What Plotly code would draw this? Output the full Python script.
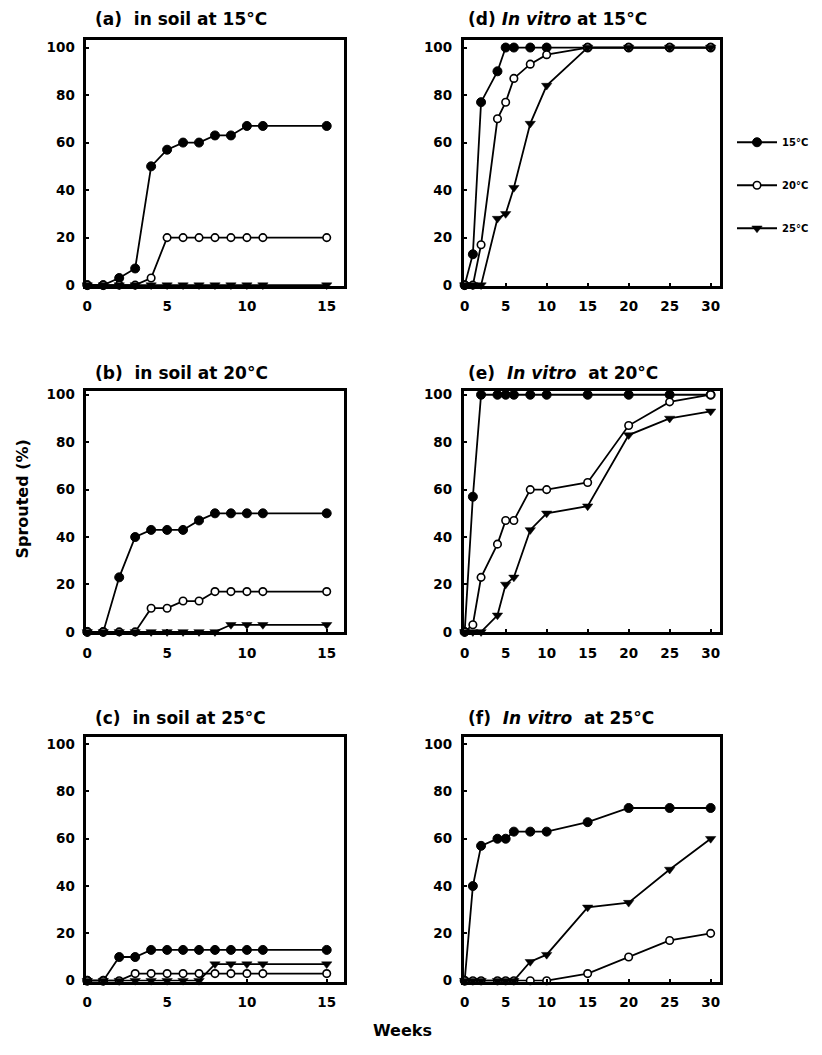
import plotly.graph_objects as go

# ---------------- data ----------------
weeks_soil = [0, 1, 2, 3, 4, 5, 6, 7, 8, 9, 10, 11, 15]
weeks_vitro = [0, 1, 2, 4, 5, 6, 8, 10, 15, 20, 25, 30]

# (a) in soil at 15°C
a_15 = [0, 0, 3, 7, 50, 57, 60, 60, 63, 63, 67, 67, 67]
a_20 = [0, 0, 0, 0, 3, 20, 20, 20, 20, 20, 20, 20, 20]
a_25 = [0, 0, 0, 0, 0, 0, 0, 0, 0, 0, 0, 0, 0]
# (b) in soil at 20°C
b_15 = [0, 0, 23, 40, 43, 43, 43, 47, 50, 50, 50, 50, 50]
b_20 = [0, 0, 0, 0, 10, 10, 13, 13, 17, 17, 17, 17, 17]
b_25 = [0, 0, 0, 0, 0, 0, 0, 0, 0, 3, 3, 3, 3]
# (c) in soil at 25°C
c_15 = [0, 0, 10, 10, 13, 13, 13, 13, 13, 13, 13, 13, 13]
c_20 = [0, 0, 0, 3, 3, 3, 3, 3, 3, 3, 3, 3, 3]
c_25 = [0, 0, 0, 0, 0, 0, 0, 0, 7, 7, 7, 7, 7]
# (d) in vitro at 15°C
d_15 = [0, 13, 77, 90, 100, 100, 100, 100, 100, 100, 100, 100]
d_20 = [0, 0, 17, 70, 77, 87, 93, 97, 100, 100, 100, 100]
d_25 = [0, 0, 0, 28, 30, 41, 68, 84, 100, 100, 100, 100]
# (e) in vitro at 20°C
e_15 = [0, 57, 100, 100, 100, 100, 100, 100, 100, 100, 100, 100]
e_20 = [0, 3, 23, 37, 47, 47, 60, 60, 63, 87, 97, 100]
e_25 = [0, 0, 0, 7, 20, 23, 43, 50, 53, 83, 90, 93]
# (f) in vitro at 25°C
f_15 = [0, 40, 57, 60, 60, 63, 63, 63, 67, 73, 73, 73]
f_20 = [0, 0, 0, 0, 0, 0, 0, 0, 3, 10, 17, 20]
f_25 = [0, 0, 0, 0, 0, 0, 8, 11, 31, 33, 47, 60]

series_names = ["15°C", "20°C", "25°C"]
soil_ticks = [0, 5, 10, 15]
vitro_ticks = [0, 5, 10, 15, 20, 25, 30]
y_ticks = [0, 20, 40, 60, 80, 100]

panel_titles = [
    "(a)  in soil at 15°C",
    "(b)  in soil at 20°C",
    "(c)  in soil at 25°C",
    "(d) <i>In vitro</i> at 15°C",
    "(e)  <i>In vitro</i>  at 20°C",
    "(f)  <i>In vitro</i>  at 25°C",
]

# ---------------- layout geometry (page pixels) ----------------
PAGE_W, PAGE_H = 822, 1055
BODY = 8                      # default body margin of the html page
FW, FH = PAGE_W - 2 * BODY, PAGE_H - 2 * BODY


def px(p):
    return (p - BODY) / FW


def py(p):
    return 1 - (p - BODY) / FH


col_x = {"L": (84, 347), "R": (469, 730)}
row_y = [(36, 285), (391, 635), (741, 988)]
row_yrange = [(-0.4, 103.3), (-0.2, 101.6), (-0.4, 102.9)]
soil_xrange = (-0.05, 16.1)
vitro_xrange = (-0.1, 31.1)
title_x = {"L": 91, "R": 471}
title_y = [15, 373, 722]

panels = [
    ("L", 0, weeks_soil, (a_15, a_20, a_25), soil_ticks, soil_xrange),
    ("L", 1, weeks_soil, (b_15, b_20, b_25), soil_ticks, soil_xrange),
    ("L", 2, weeks_soil, (c_15, c_20, c_25), soil_ticks, soil_xrange),
    ("R", 0, weeks_vitro, (d_15, d_20, d_25), vitro_ticks, vitro_xrange),
    ("R", 1, weeks_vitro, (e_15, e_20, e_25), vitro_ticks, vitro_xrange),
    ("R", 2, weeks_vitro, (f_15, f_20, f_25), vitro_ticks, vitro_xrange),
]

FONT = "DejaVu Sans"
markers = [
    dict(symbol="circle", size=9, color="black", line=dict(color="black", width=1)),
    dict(symbol="circle", size=7.5, color="white", line=dict(color="black", width=1.6)),
    dict(symbol="triangle-down", size=9, color="black", line=dict(color="black", width=0.5)),
]

fig = go.Figure()
layout = dict(
    width=FW, height=FH,
    margin=dict(l=0, r=0, t=0, b=0),
    paper_bgcolor="white", plot_bgcolor="white",
    font=dict(family=FONT, color="black"),
    showlegend=True,
    legend=dict(
        x=px(743), y=py(125), xanchor="left", yanchor="top",
        font=dict(family=FONT, size=10, weight="bold", color="black"),
        itemwidth=40, tracegroupgap=24, bgcolor="rgba(0,0,0,0)",
    ),
)

annotations = []
for i, (col, row, xs, ys, ticks, xr) in enumerate(panels):
    n = i + 1
    xa = "x" if n == 1 else f"x{n}"
    ya = "y" if n == 1 else f"y{n}"
    x0, x1 = col_x[col]
    y0, y1 = row_y[row]
    axis_common = dict(
        showline=True, linewidth=3, linecolor="black", mirror=True,
        showgrid=False, zeroline=False,
        ticks="inside", ticklen=3, tickwidth=2, tickcolor="black",
        tickfont=dict(family=FONT, size=13.5, weight="bold", color="black"),
    )
    layout[f"xaxis{n if n > 1 else ''}"] = dict(
        axis_common, domain=[px(x0), px(x1)], range=list(xr),
        tickvals=ticks, anchor=ya, ticklabelstandoff=6,
    )
    layout[f"yaxis{n if n > 1 else ''}"] = dict(
        axis_common, domain=[py(y1), py(y0)], range=list(row_yrange[row]),
        tickvals=y_ticks, anchor=xa, ticklabelstandoff=6,
    )
    for k in range(3):
        fig.add_trace(go.Scatter(
            x=xs, y=ys[k], mode="lines+markers", name=series_names[k],
            line=dict(color="black", width=1.8), marker=markers[k],
            xaxis=xa, yaxis=ya, cliponaxis=False,
            showlegend=(n == 1), legendgroup=f"g{k}",
        ))
    annotations.append(dict(
        text=panel_titles[i], x=px(title_x[col]), y=py(title_y[row]),
        xref="paper", yref="paper", xanchor="left", yanchor="middle",
        showarrow=False, font=dict(family=FONT, size=17, weight="bold", color="black"),
    ))

annotations.append(dict(
    text="Sprouted (%)", x=px(19), y=py(500), xref="paper", yref="paper",
    textangle=-90, showarrow=False, xanchor="center", yanchor="middle",
    font=dict(family=FONT, size=16, weight="bold", color="black"),
))
annotations.append(dict(
    text="Weeks", x=px(406), y=py(1037), xref="paper", yref="paper",
    showarrow=False, xanchor="center", yanchor="middle",
    font=dict(family=FONT, size=16, weight="bold", color="black"),
))
layout["annotations"] = annotations
fig.update_layout(**layout)
fig.write_html("out.html")
